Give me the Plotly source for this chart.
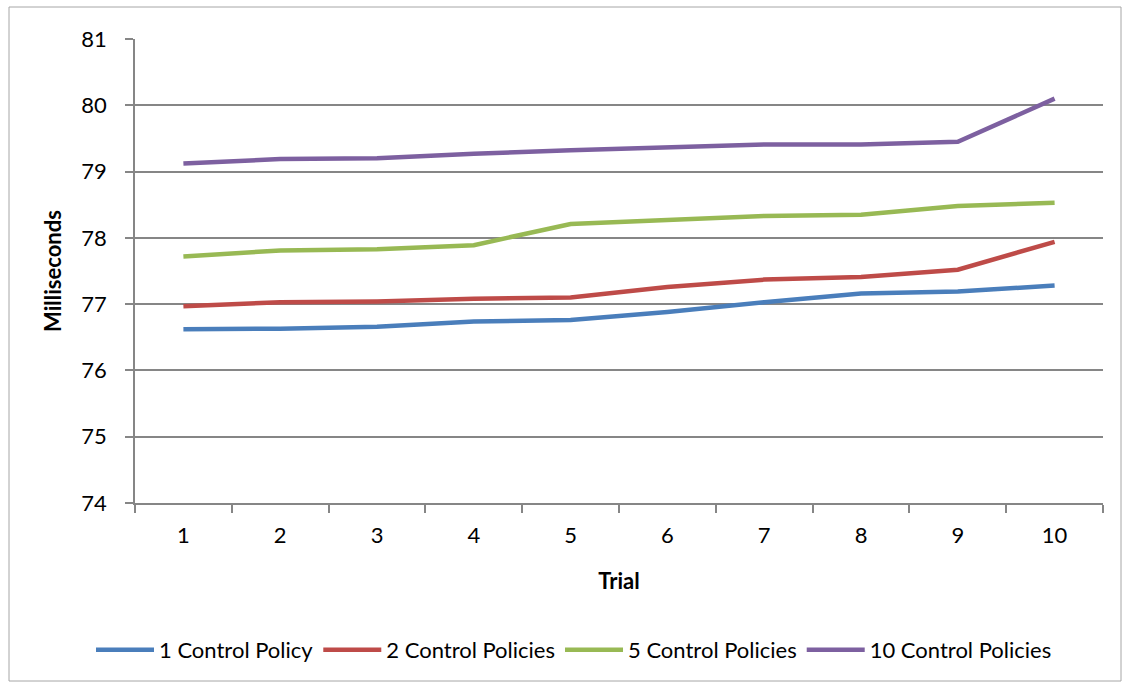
import plotly.graph_objects as go

# Trial numbers (category axis) and mean latency per trial, in milliseconds
trials = ["1", "2", "3", "4", "5", "6", "7", "8", "9", "10"]

one_policy = [76.62, 76.63, 76.66, 76.74, 76.76, 76.88, 77.03, 77.16, 77.19, 77.28]
two_policies = [76.97, 77.03, 77.04, 77.08, 77.10, 77.26, 77.37, 77.41, 77.52, 77.94]
five_policies = [77.72, 77.81, 77.83, 77.89, 78.21, 78.27, 78.33, 78.35, 78.48, 78.53]
ten_policies = [79.12, 79.19, 79.20, 79.27, 79.32, 79.36, 79.41, 79.41, 79.45, 80.10]

series_names = ["1 Control Policy", "2 Control Policies", "5 Control Policies", "10 Control Policies"]
series_values = [one_policy, two_policies, five_policies, ten_policies]
series_colors = ["#4a7ebb", "#be4b48", "#98b954", "#7d60a0"]

FONT = "Lato, Carlito, Calibri, sans-serif"
GRID = "#868686"
FS = 22

fig = go.Figure()
for name, vals, color in zip(series_names, series_values, series_colors):
    fig.add_trace(go.Scatter(
        x=trials, y=vals, name=name, mode="lines",
        line=dict(color=color, width=4.5),
    ))

# Plot area in pixels: x 135..1103, y 39..503
L, R, T, B = 135, 1103, 39, 503
W, H = 1130, 687


def px_x(x):
    return (x - L) / (R - L)


def px_y(y):
    return (B - y) / (B - T)


fig.update_layout(
    width=W, height=H,
    margin=dict(l=L, r=W - R, t=T, b=H - B, autoexpand=False),
    paper_bgcolor="white", plot_bgcolor="white",
    font=dict(family=FONT, size=FS, color="#000000"),
    showlegend=True,
    legend=dict(
        orientation="h", x=px_x(574), y=px_y(650),
        xanchor="center", yanchor="middle",
        font=dict(size=FS, family=FONT), itemwidth=58,
        tracegroupgap=0, traceorder="normal",
    ),
    xaxis=dict(
        type="category", tickson="boundaries", range=[-0.5, 9.5],
        showgrid=False, showline=True, linecolor=GRID, linewidth=1.5,
        ticks="outside", ticklen=8, tickcolor=GRID, tickwidth=1.5,
        tickfont=dict(size=FS, family=FONT),
        ticklabelstandoff=12,
        title=dict(text="<b>Trial</b>", font=dict(size=FS, family=FONT), standoff=26),
    ),
    yaxis=dict(
        range=[74, 81], dtick=1, tick0=74,
        showgrid=True, gridcolor=GRID, gridwidth=1.5,
        showline=True, linecolor=GRID, linewidth=1.5,
        ticks="outside", ticklen=8, tickcolor=GRID, tickwidth=1.5,
        tickfont=dict(size=FS, family=FONT),
        ticklabelstandoff=14,
        zeroline=False,
        title=dict(text="<b>Milliseconds</b>", font=dict(size=FS, family=FONT), standoff=14),
    ),
)

# Thin outer frame around the whole chart
fig.add_shape(
    type="rect", xref="paper", yref="paper",
    x0=px_x(9), x1=px_x(1121), y0=px_y(681), y1=px_y(7),
    line=dict(color="#a6a6a6", width=1), layer="below",
)

fig.write_html("out.html")
